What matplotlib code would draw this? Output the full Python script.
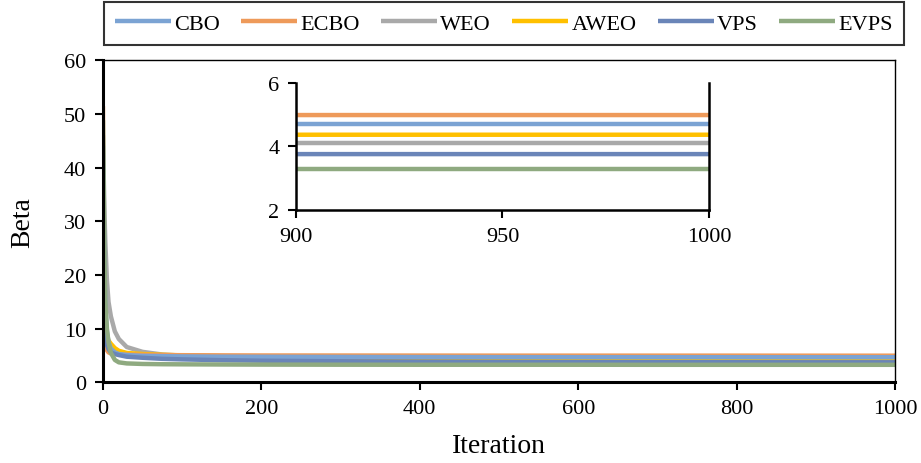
import matplotlib.pyplot as plt

plt.rcParams["font.family"] = ["Liberation Serif", "DejaVu Serif"]
plt.rcParams["font.size"] = 16

# iteration samples and Beta values
iters = [0, 1, 2, 3, 5, 7, 10, 15, 20, 30, 50, 75, 100, 150, 200,
         300, 400, 500, 600, 700, 800, 900, 1000]

cbo = [44, 30, 20, 14, 9.5, 7.5, 6.3, 5.6, 5.3, 5.1, 4.95, 4.9, 4.85, 4.8, 4.78,
       4.75, 4.73, 4.72, 4.71, 4.71, 4.70, 4.70, 4.70]
ecbo = [51.4, 14, 8.5, 7, 6.0, 5.6, 5.4, 5.3, 5.25, 5.2, 5.15, 5.1, 5.08, 5.05, 5.03,
        5.02, 5.01, 5.0, 5.0, 5.0, 5.0, 4.99, 4.99]
weo = [46, 38, 31, 26, 19, 15, 12.3, 9.5, 8.1, 6.6, 5.7, 5.2, 5.0, 4.7, 4.5,
       4.35, 4.25, 4.2, 4.15, 4.12, 4.1, 4.1, 4.1]
aweo = [22, 16, 12, 10, 8.5, 7.8, 7.2, 6.4, 5.9, 5.5, 5.3, 5.15, 5.05, 4.9, 4.8,
        4.65, 4.55, 4.5, 4.45, 4.4, 4.38, 4.37, 4.37]
vps = [40, 20, 12, 9, 7, 6.2, 5.6, 5.3, 5.1, 4.8, 4.6, 4.4, 4.3, 4.15, 4.05,
       3.95, 3.88, 3.83, 3.8, 3.78, 3.77, 3.76, 3.76]
evps = [48.8, 35, 22, 15, 10, 7.5, 5.5, 4.2, 3.75, 3.55, 3.45, 3.4, 3.38, 3.35, 3.33,
        3.31, 3.3, 3.3, 3.3, 3.29, 3.29, 3.29, 3.29]

names = ["CBO", "ECBO", "WEO", "AWEO", "VPS", "EVPS"]
series = [cbo, ecbo, weo, aweo, vps, evps]
colors = ["#7BA3D3", "#EE9A5A", "#A9A9A9", "#FFC000", "#6A85B8", "#8FAA80"]

# draw order: light lines first, EVPS on top
order = [2, 3, 1, 0, 4, 5]

fig = plt.figure(figsize=(9.21, 4.64), dpi=100)
ax = fig.add_axes([0.1118, 0.1735, 0.86, 0.695])

for i in order:
    ax.plot(iters, series[i], color=colors[i], lw=3.2, label=names[i],
            solid_capstyle="butt")

ax.set_xlim(0, 1000)
ax.set_ylim(0, 60)
ax.set_xticks(range(0, 1001, 200))
ax.set_yticks(range(0, 61, 10))
ax.set_xlabel("Iteration", fontsize=20, labelpad=11)
ax.set_ylabel("Beta", fontsize=20, labelpad=21)
ax.tick_params(direction="out", length=6, width=1.5, pad=6)
for s in ["left", "bottom"]:
    ax.spines[s].set_linewidth(2.2)
for s in ["top", "right"]:
    ax.spines[s].set_linewidth(1)

# legend in its own box above the plot
handles, labels = ax.get_legend_handles_labels()
lookup = dict(zip(labels, handles))
leg = fig.legend([lookup[n] for n in names], names, ncol=6,
                 loc="center", mode="expand", borderaxespad=0,
                 bbox_to_anchor=(0.1129, 0.905, 0.8686, 0.084),
                 bbox_transform=fig.transFigure,
                 frameon=True, fancybox=False, edgecolor="black",
                 handlelength=2.5, columnspacing=0.95, handletextpad=0.15,
                 borderpad=0.5, fontsize=16)
leg.get_frame().set_linewidth(1.5)

# zoomed inset for the last 100 iterations
ins = fig.add_axes([0.3214, 0.5453, 0.4484, 0.2737])
for i in order:
    ins.plot(iters, series[i], color=colors[i], lw=3.2, solid_capstyle="butt")
ins.set_xlim(900, 1000)
ins.set_ylim(2, 6)
ins.set_xticks([900, 950, 1000])
ins.set_yticks([2, 4, 6])
ins.tick_params(direction="out", length=6, width=1.5, pad=6)
ins.spines["top"].set_visible(False)
for s in ["left", "bottom", "right"]:
    ins.spines[s].set_linewidth(1.8)

fig.savefig("out.png", dpi=100)
